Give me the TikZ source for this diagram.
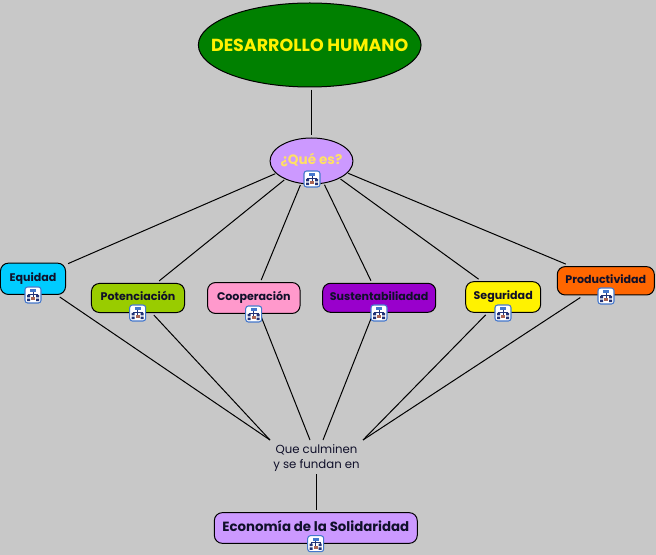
\documentclass[tikz,border=0pt]{standalone}
\usepackage{fontspec}
\usetikzlibrary{shapes.geometric}
\setmainfont{Poppins}
\definecolor{bg}{HTML}{C8C8C8}
\definecolor{ink}{HTML}{10102A}
\definecolor{lilac}{HTML}{CC99FF}
\definecolor{qtext}{HTML}{FFE066}
\definecolor{cEqu}{HTML}{00CCFF}
\definecolor{cPot}{HTML}{99CC00}
\definecolor{cCoo}{HTML}{FF99CC}
\definecolor{cSus}{HTML}{9900CC}
\definecolor{cPro}{HTML}{FF6600}
\definecolor{cTop}{HTML}{008000}
\definecolor{iconblue}{HTML}{4477CC}
\definecolor{icondark}{HTML}{223377}
\definecolor{iconred}{HTML}{AA6655}
\tikzset{
  x=0.75pt,y=-0.75pt,
  conn/.style={draw=black,line width=0.75pt},
  ovalnode/.style={ellipse,draw=black,line width=0.75pt,inner sep=0pt,outer sep=1.9pt},
  boxnode/.style={rectangle,rounded corners=6pt,draw=black,line width=0.75pt,inner sep=0pt,outer sep=1.9pt,text=ink,font=\fontsize{8.3pt}{10pt}\selectfont\bfseries},
  iconbox/.style={rectangle,rounded corners=2pt,draw=iconblue,fill=white,line width=0.8pt,minimum size=12pt,inner sep=0pt},
  treeicon/.pic={
    \node[iconbox] at (0,0) {};
    \fill[iconblue] (-3,-6) rectangle (3,-3.2);
    \draw[icondark,line width=0.45pt] (-4.5,2) -- (-4.5,-1) -- (4.5,-1) -- (4.5,2) (0,-3.2) -- (0,2);
    \fill[icondark] (-6,-0.2) rectangle (-3,2.4) (3,-0.2) rectangle (6,2.4) (-6,3.6) rectangle (-3,6.2) (3,3.6) rectangle (6,6.2);
    \fill[iconred] (-1.8,2) rectangle (1.8,5.5);
  }
}
\newcommand{\up}[1]{\raisebox{2.8pt}{#1}}
\begin{document}
\begin{tikzpicture}
\useasboundingbox[fill=bg] (0,0) rectangle (656,555);
% nodes
\node[ovalnode,fill=cTop,minimum width=167pt,minimum height=63pt,text=yellow,font=\fontsize{13.1pt}{16pt}\selectfont\bfseries] (top) at (309.7,45) {\makebox[0pt][c]{DESARROLLO HUMANO}};
\node[ovalnode,fill=lilac,minimum width=62.2pt,minimum height=34.5pt,text=qtext,font=\fontsize{10.2pt}{12pt}\selectfont\bfseries] (que) at (311.5,161) {\makebox[0pt][c]{\up{¿Qué es?}}};
% undrawn boundary that the six upper connectors start from
\node[ellipse,inner sep=0pt,outer sep=0pt,minimum width=66pt,minimum height=42pt] (quehub) at (311.5,158) {};
\node[boxnode,fill=cEqu,minimum width=48.8pt,minimum height=23.5pt] (equ) at (33,278.8) {\up{Equidad}};
\node[boxnode,fill=cPot,minimum width=69.8pt,minimum height=21.8pt] (pot) at (138,298) {\up{Potenciación}};
\node[boxnode,fill=cCoo,minimum width=69.4pt,minimum height=23.2pt] (coo) at (253.8,298) {\up{Cooperación}};
\node[boxnode,fill=cSus,minimum width=84.8pt,minimum height=21.8pt] (sus) at (379.2,297.8) {\up{Sustentabiliadad}};
\node[boxnode,fill=yellow,minimum width=56.2pt,minimum height=23pt] (seg) at (503.2,297) {\up{Seguridad}};
\node[boxnode,fill=cPro,minimum width=72.8pt,minimum height=21.3pt] (pro) at (605.8,280.8) {\up{Productividad}};
\node[boxnode,fill=lilac,minimum width=152.2pt,minimum height=23pt,font=\fontsize{10pt}{12pt}\selectfont\bfseries] (eco) at (315.8,528) {\up{Economía de la Solidaridad}};
\node[align=center,inner sep=0pt,text=ink,font=\fontsize{8.8pt}{11.3pt}\selectfont,minimum width=70pt,minimum height=24pt] (lab) at (316.5,458) {Que culminen\\y se fundan en};
% free ends of the connectors above the label
\coordinate (labL) at (270,440);
\coordinate (labA) at (310,440);
\coordinate (labB) at (323,440);
\coordinate (labR) at (363,440);
\coordinate (topfoot) at (que.north |- top.south);
\coordinate (ecofoot) at (lab.south |- eco.north);
% connectors
\draw[conn] (topfoot) -- (que.north);
\foreach \n in {equ,pot,coo,sus,seg,pro} \draw[conn] (quehub) -- (\n);
\draw[conn] (equ) -- (labL);
\draw[conn] (pot) -- (labL);
\draw[conn] (coo) -- (labA);
\draw[conn] (sus) -- (labB);
\draw[conn] (seg) -- (labR);
\draw[conn] (pro) -- (labR);
\draw[conn] (lab.south) -- (ecofoot);
% icons
\pic at (312,179) {treeicon};
\pic at (33,295) {treeicon};
\pic at (137.7,313) {treeicon};
\pic at (253.7,314) {treeicon};
\pic at (379,313) {treeicon};
\pic at (503,313) {treeicon};
\pic at (606,296) {treeicon};
\pic at (315.7,543.7) {treeicon};
\end{tikzpicture}
\end{document}
